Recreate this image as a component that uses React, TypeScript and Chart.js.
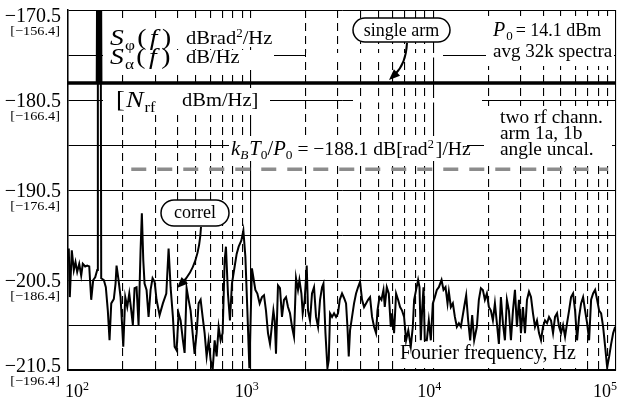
import React, { useEffect, useRef } from "react";
import { Chart, registerables } from "chart.js";

Chart.register(...registerables);

// ---- data ----
const freqHz = [
  101, 102.3, 104.9, 107.6, 109.9, 112.3, 115.2, 118.1, 120.5, 124.2, 127.4, 130.7, 134.0, 137.4, 140.9, 144.5,
  145.7, 150.4, 152.0, 157.1, 161.1, 165.2, 168.8, 172.5, 178.2, 182.1, 184.4, 189.1, 194.0, 200.7, 205.8, 211.0,
  216.5, 222.0, 226.5, 231.4, 237.3, 243.4, 249.6, 253.7, 258.3, 262.5, 269.2, 276.1, 283.2, 290.4, 297.9, 305.4,
  317.2, 330.7, 345.2, 355.4, 364.5, 375.2, 383.4, 393.1, 403.2, 413.5, 425.7, 434.9, 446.0, 457.4, 469.1, 481.1,
  493.3, 506.0, 518.9, 532.2, 545.8, 559.7, 574.0, 588.7, 603.7, 619.2, 635.0, 651.2, 667.9, 684.9, 702.4, 720.4,
  732.3, 751.0, 770.2, 789.9, 817.2, 838.2, 859.6, 889.4, 912.1, 935.4, 959.3, 983.7, 1016, 1061, 1088, 1120,
  1153, 1183, 1213, 1244, 1276, 1332, 1354, 1376, 1411, 1447, 1484, 1522, 1561, 1601, 1642, 1684,
  1727, 1771, 1816, 1849, 1896, 1927, 1976, 2027, 2061, 2113, 2167, 2223, 2280, 2338, 2398, 2459,
  2503, 2567, 2632, 2676, 2720, 2790, 2861, 2934, 3009, 3074, 3164, 3245, 3328, 3387, 3443, 3500,
  3589, 3681, 3775, 3871, 3970, 4072, 4176, 4282, 4392, 4504, 4619, 4737, 4858, 4945, 5071, 5200,
  5334, 5422, 5561, 5703, 5848, 5945, 6097, 6253, 6413, 6577, 6744, 6917, 7093, 7293, 7527, 7720,
  7848, 8048, 8254, 8401, 8540, 8681, 8835, 8981, 9211, 9446, 9689, 9937, 10190, 10450, 10720, 11090,
  11370, 11660, 11960, 12160, 12470, 12790, 13120, 13450, 13800, 14150, 14750, 15130, 15510, 15910, 16320, 16730,
  17310, 17750, 18210, 18670, 19150, 19640, 20140, 20660, 21190, 21730, 22280, 22850, 23440, 24040, 24650, 25280,
  25930, 26600, 27280, 27980, 28690, 29430, 30180, 30950, 31750, 32560, 33390, 34250, 35120, 36020, 36940, 37890,
  38860, 39850, 40870, 41920, 42990, 44090, 45220, 46370, 47560, 48780, 50020, 51300, 52620, 53960, 55340, 56760,
  58210, 59700, 61230, 62790, 64400, 66050, 67740, 69470, 71250, 73070, 74940, 76860, 78820, 80840, 82910, 85030,
  87210, 89440, 91730, 94080, 96490, 98960,
];

const correlDb = [
  -197.0, -202.4, -197.2, -199.4, -198.5, -199.6, -198.7, -200.0, -198.7, -199.0, -198.9, -199.0, -202.7, -200.5, -200.2, -199.4,
  -150, -150, -200.3, -200.5, -201.3, -203.9, -207.2, -203.1, -202.6, -200.9, -198.9, -200.5, -202.4, -207.9, -202.4, -203.5,
  -202.0, -203.9, -205.5, -201.4, -201.3, -205.5, -197.2, -193.1, -198.3, -200.9, -201.6, -204.6, -201.6, -200.3, -200.7, -202.7,
  -204.4, -203.1, -202.0, -197.0, -201.3, -204.6, -207.9, -208.3, -204.2, -205.0, -207.2, -208.6, -201.4, -202.7, -203.9, -206.4,
  -208.7, -206.4, -203.1, -202.7, -204.6, -206.4, -209.0, -207.2, -209.4, -210.5, -207.2, -209.0, -205.7, -207.2, -206.4, -198.3,
  -196.8, -202.0, -205.0, -200.9, -199.0, -197.6, -196.8, -196.1, -195.0, -197.9, -203.9, -210.3, -199.2, -201.6, -202.0, -203.1,
  -202.4, -202.2, -203.9, -206.4, -207.6, -203.9, -205.0, -208.7, -201.1, -201.4, -204.6, -202.7, -202.4, -203.5, -204.2, -205.7,
  -206.8, -200.3, -201.6, -200.5, -202.0, -204.2, -202.7, -198.9, -203.9, -205.0, -202.0, -201.3, -204.6, -205.7, -202.7, -201.3,
  -200.9, -206.4, -210.3, -209.4, -204.2, -204.6, -204.2, -204.6, -204.2, -202.7, -202.0, -202.5, -203.1, -205.7, -209.0, -206.1,
  -204.6, -203.1, -202.0, -201.3, -200.7, -202.7, -203.5, -203.1, -202.7, -202.4, -204.6, -205.7, -206.4, -203.9, -202.4, -202.7,
  -201.6, -203.5, -201.3, -202.0, -205.7, -204.2, -206.4, -202.0, -202.7, -203.5, -203.9, -204.6, -207.2, -206.1, -207.9, -205.7,
  -202.7, -201.6, -200.5, -201.3, -207.2, -203.9, -201.3, -207.2, -207.2, -205.0, -207.2, -203.1, -202.4, -201.6, -201.3, -200.5,
  -201.6, -201.3, -203.1, -201.8, -203.5, -203.1, -204.6, -205.7, -205.3, -205.7, -203.5, -202.2, -205.0, -207.2, -204.4, -207.2,
  -205.7, -202.7, -201.4, -201.6, -202.7, -202.0, -203.5, -203.9, -205.0, -203.1, -205.3, -207.6, -202.4, -205.3, -207.2, -202.7,
  -203.9, -207.2, -203.9, -201.6, -205.7, -202.7, -206.4, -203.5, -206.4, -202.7, -201.8, -202.4, -204.2, -205.7, -205.0, -206.4,
  -207.2, -205.7, -205.0, -205.3, -204.6, -205.0, -206.4, -204.6, -204.2, -205.7, -206.4, -205.5, -206.8, -205.3, -203.9, -202.4,
  -202.0, -203.9, -207.2, -204.6, -203.1, -202.4, -203.9, -205.3, -207.2, -202.7, -202.0, -201.6, -202.7, -203.9, -204.2, -205.7,
  -207.9, -210.2, -209.0, -207.6, -206.4, -205.7,
];

const singleArmHz = [100, 145, 146.5, 149.5, 151, 100000];
const singleArmDb = [-178.6, -178.6, -155, -155, -178.6, -178.6];

const kTHz = [222, 90400];
const kTDb = [-188.2, -188.2];

const xGridHz = [
  100, 200, 300, 400, 500, 600, 700, 800, 900,
  1000, 2000, 3000, 4000, 5000, 6000, 7000, 8000, 9000,
  10000, 20000, 30000, 40000, 50000, 60000, 70000, 80000, 90000, 100000,
];
const xDecadesHz = [100, 1000, 10000, 100000];
const xExponents = ["2", "3", "4", "5"];

const yGridDb = [-210.5, -205.5, -200.5, -195.5, -190.5, -185.5, -180.5, -175.5, -170.5];
const yLabelDb = [-210.5, -200.5, -190.5, -180.5, -170.5];
const yLabels = ["\u2212210.5", "\u2212200.5", "\u2212190.5", "\u2212180.5", "\u2212170.5"];
const yBrackets = ["[\u2212196.4]", "[\u2212186.4]", "[\u2212176.4]", "[\u2212166.4]", "[\u2212156.4]"];

// ---- drawing helpers ----
const FF = '"Liberation Serif", "Times New Roman", serif';
const fnt = (px: number, italic = false) => `${italic ? "italic " : ""}${px}px ${FF}`;

type Part = [string, string, number?, number?];

function rich(ctx: CanvasRenderingContext2D, x: number, y: number, parts: Part[], sx = 1, align = "left") {
  ctx.save();
  const widths = parts.map((p) => {
    ctx.font = p[1];
    return ctx.measureText(p[0]).width + (p[3] || 0);
  });
  const total = widths.reduce((a, b) => a + b, 0);
  let cx = align === "center" ? -total / 2 : align === "right" ? -total : 0;
  ctx.translate(x, y);
  ctx.scale(sx, 1);
  ctx.textAlign = "left";
  ctx.textBaseline = "alphabetic";
  ctx.fillStyle = "#000";
  parts.forEach((p, i) => {
    ctx.font = p[1];
    ctx.fillText(p[0], cx, p[2] || 0);
    cx += widths[i];
  });
  ctx.restore();
}

function pill(ctx: CanvasRenderingContext2D, x0: number, y0: number, x1: number, y1: number) {
  const r = (y1 - y0) / 2;
  ctx.save();
  ctx.beginPath();
  ctx.moveTo(x0 + r, y0);
  ctx.lineTo(x1 - r, y0);
  ctx.arc(x1 - r, y0 + r, r, -Math.PI / 2, Math.PI / 2);
  ctx.lineTo(x0 + r, y1);
  ctx.arc(x0 + r, y0 + r, r, Math.PI / 2, (3 * Math.PI) / 2);
  ctx.closePath();
  ctx.fillStyle = "#fff";
  ctx.fill();
  ctx.lineWidth = 1.5;
  ctx.strokeStyle = "#000";
  ctx.stroke();
  ctx.restore();
}

function arrow(ctx: CanvasRenderingContext2D, x0: number, y0: number, cx: number, cy: number, x1: number, y1: number) {
  const ang = Math.atan2(y1 - cy, x1 - cx);
  const L = 11, W = 4.5;
  const bx = x1 - L * 0.7 * Math.cos(ang);
  const by = y1 - L * 0.7 * Math.sin(ang);
  ctx.save();
  ctx.strokeStyle = "#000";
  ctx.fillStyle = "#000";
  ctx.lineWidth = 2;
  ctx.beginPath();
  ctx.moveTo(x0, y0);
  ctx.quadraticCurveTo(cx, cy, bx, by);
  ctx.stroke();
  ctx.beginPath();
  ctx.moveTo(x1, y1);
  ctx.lineTo(x1 - L * Math.cos(ang) + W * Math.sin(ang), y1 - L * Math.sin(ang) - W * Math.cos(ang));
  ctx.lineTo(x1 - L * Math.cos(ang) - W * Math.sin(ang), y1 - L * Math.sin(ang) + W * Math.cos(ang));
  ctx.closePath();
  ctx.fill();
  ctx.restore();
}

const annotationPlugin = {
  id: "annotations",
  beforeDatasetsDraw(chart: any) {
    const ctx: CanvasRenderingContext2D = chart.ctx;
    // white backgrounds that interrupt the grid behind the labels
    const blanks: number[][] = [
      [103, 18, 274, 47],
      [103, 50, 274, 70],
      [103, 88, 270, 115],
      [306, 53, 443, 57.5],
      [353, 98, 482, 102.5],
      [486, 16, 614, 66],
      [484, 106, 612, 161],
      [229, 136, 467, 161],
      [396, 342, 582, 368],
    ];
    ctx.save();
    ctx.fillStyle = "#fff";
    blanks.forEach(([a, b, c, d]) => ctx.fillRect(a, b, c - a, d - b));
    ctx.restore();

    // S_phi(f)
    rich(ctx, 110, 45, [["S", fnt(24, true), 0, 1], ["\u03c6", fnt(15), 5, 2], ["(", fnt(24), 0, 3], ["f", fnt(24, true), 0, 4], [")", fnt(24)]], 1.15);
    rich(ctx, 186, 44, [["dBrad", fnt(19)], ["2", fnt(12), -7], ["/Hz", fnt(19)]], 1.08);
    // S_alpha(f)
    rich(ctx, 110, 64, [["S", fnt(24, true), 0, 1], ["\u03b1", fnt(15), 5, 2], ["(", fnt(24), 0, 3], ["f", fnt(24, true), 0, 4], [")", fnt(24)]], 1.15);
    rich(ctx, 186, 63, [["dB/Hz", fnt(19)]], 1.08);
    // [N_rf dBm/Hz]
    rich(ctx, 116, 107, [["[", fnt(24), 0, 1], ["N", fnt(24, true), 0, 1], ["rf", fnt(15), 5]], 1.1);
    rich(ctx, 182, 106, [["dBm/Hz]", fnt(19)]], 1.08);

    // single arm
    pill(ctx, 353, 18, 450, 42);
    rich(ctx, 401.5, 36, [["single arm", fnt(18)]], 1, "center");

    // P0
    rich(ctx, 493, 36, [["P", fnt(20, true), 0, 1], ["0", fnt(13), 4, 3], ["= 14.1 dBm", fnt(18)]], 1);
    rich(ctx, 493, 57, [["avg 32k spectra", fnt(19)]], 1);

    // two rf chann.
    rich(ctx, 500, 123, [["two rf chann.", fnt(19)]], 1.02);
    rich(ctx, 500, 139, [["arm 1a, 1b", fnt(19)]], 1.02);
    rich(ctx, 500, 155, [["angle uncal.", fnt(19)]], 1.02);

    // kB T0 / P0
    rich(
      ctx, 231, 155,
      [["k", fnt(20, true)], ["B", fnt(13, true), 4, 1], ["T", fnt(20, true)], ["0", fnt(13), 4], ["/", fnt(20)], ["P", fnt(20, true)], ["0", fnt(13), 4],
       [" = \u2212188.1 dB[rad", fnt(19)], ["2", fnt(12), -7, 2], ["]/Hz", fnt(19)]],
      1.03
    );

    // correl
    pill(ctx, 161, 200, 229, 226);
    rich(ctx, 195, 218, [["correl", fnt(18)]], 1, "center");

    // axis title
    rich(ctx, 400, 359, [["Fourier frequency, Hz", fnt(20)]], 1);
  },
  afterDatasetsDraw(chart: any) {
    const ctx: CanvasRenderingContext2D = chart.ctx;
    arrow(ctx, 407, 43, 406, 64, 389, 80);
    arrow(ctx, 201, 227, 199, 266, 177, 288);
  },
  afterDraw(chart: any) {
    const ctx: CanvasRenderingContext2D = chart.ctx;
    const ys = chart.scales.y;
    const xs = chart.scales.x;
    yLabelDb.forEach((v, i) => {
      const gy = ys.getPixelForValue(v);
      const c = Math.min(Math.max(gy, 15), 365);
      rich(ctx, 61, c + 7, [[yLabels[i], fnt(20)]], 1, "right");
      rich(ctx, 60, c + 15 + 5, [[yBrackets[i], fnt(13)]], 1.1, "right");
    });
    xDecadesHz.forEach((v, i) => {
      const gx = xs.getPixelForValue(v);
      let left = gx - 16;
      if (i === 0) left = gx - 3;
      if (i === xDecadesHz.length - 1) left = gx - 23;
      rich(ctx, left, 397, [["10", fnt(18)], [xExponents[i], fnt(12), -7]], 1);
    });
  },
};

export default function App() {
  const ref = useRef<HTMLCanvasElement | null>(null);
  useEffect(() => {
    if (!ref.current) return;
    const toXY = (xs: number[], ys: number[]) => xs.map((x, i) => ({ x, y: ys[i] }));
    const chart = new Chart(ref.current, {
      type: "line",
      data: {
        datasets: [
          { label: "correl", data: toXY(freqHz, correlDb), borderColor: "#000", borderWidth: 2, pointRadius: 0, tension: 0, fill: false },
          { label: "single arm", data: toXY(singleArmHz, singleArmDb), borderColor: "#000", borderWidth: 3.5, pointRadius: 0, tension: 0, fill: false },
          { label: "kBT0/P0", data: toXY(kTHz, kTDb), borderColor: "#8c8c8c", borderWidth: 3.5, borderDash: [15, 11], pointRadius: 0, fill: false },
        ],
      },
      options: {
        responsive: false,
        animation: false,
        devicePixelRatio: 1,
        layout: { padding: { left: 68, right: 1, top: 10, bottom: 28 } },
        plugins: { legend: { display: false }, tooltip: { enabled: false } },
        scales: {
          x: {
            type: "logarithmic",
            min: 100,
            max: 100000,
            afterBuildTicks: (s: any) => { s.ticks = xGridHz.map((v) => ({ value: v })); },
            ticks: { display: false },
            grid: { color: "#000", lineWidth: 1.1, drawTicks: false },
            border: {
              display: true, color: "#000", width: 1.5,
              dash: (c: any) => (c.tick && !xDecadesHz.includes(c.tick.value) ? [8, 5] : []),
            },
          },
          y: {
            type: "linear",
            min: -210.5,
            max: -170.5,
            afterBuildTicks: (s: any) => { s.ticks = yGridDb.map((v) => ({ value: v })); },
            ticks: { display: false },
            grid: { color: "#000", lineWidth: 1, drawTicks: false },
            border: { display: true, color: "#000", width: 1.5 },
          },
        },
      } as any,
      plugins: [annotationPlugin],
    });
    return () => chart.destroy();
  }, []);
  return (
    <div style={{ position: "fixed", left: 0, top: 0, width: 617, height: 398, background: "#fff" }}>
      <canvas ref={ref} width={617} height={398} style={{ display: "block" }} />
    </div>
  );
}
